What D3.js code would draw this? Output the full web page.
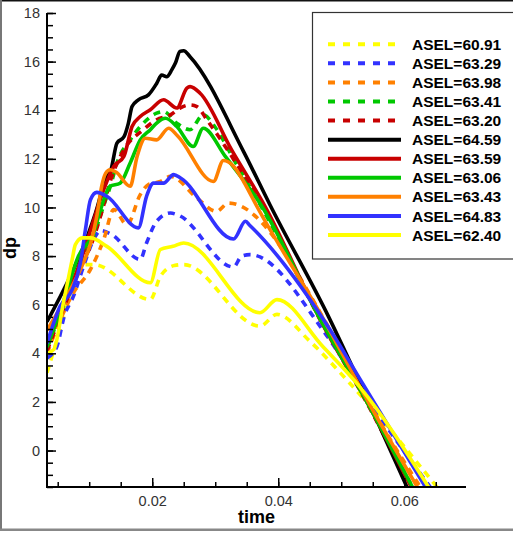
<!DOCTYPE html>
<html>
<head>
<meta charset="utf-8">
<script src="https://cdn.jsdelivr.net/npm/d3@7"></script>
<style>
  html, body { margin: 0; padding: 0; background: #fff; }
  svg { display: block; }
</style>
</head>
<body>
<svg id="chart" width="513" height="533"></svg>
<script>
// dp(time) curves, one [time, dp] array per run
const asel6091 = [[0.0033,3.2],[0.0054,5.0],[0.0072,6.62],[0.0091,7.65],[0.0108,7.65],[0.0197,6.21],[0.0213,7.17],[0.0235,7.61],[0.0250,7.65],[0.0371,5.12],[0.0398,5.6],[0.0450,4.5],[0.0509,2.9],[0.0655,-1.6]];
const asel6329 = [[0.0033,3.8],[0.0049,4.3],[0.0060,5.5],[0.0075,6.35],[0.0091,7.58],[0.0107,8.68],[0.0118,9.05],[0.0135,8.9],[0.0181,7.86],[0.0191,8.54],[0.0207,9.43],[0.0229,9.77],[0.0240,9.7],[0.0329,7.55],[0.0342,8.0],[0.0355,8.06],[0.0475,4.8],[0.0545,2.0],[0.0644,-1.6]];
const asel6398 = [[0.0033,4.0],[0.0075,6.49],[0.0102,7.45],[0.0123,8.68],[0.0139,9.91],[0.0160,9.29],[0.0181,10.53],[0.0194,10.94],[0.0213,11.07],[0.0229,11.28],[0.0271,10.39],[0.0302,9.84],[0.0321,10.18],[0.0482,4.98],[0.0545,1.9],[0.0628,-1.6]];
const asel6341 = [[0.0033,4.2],[0.0060,6.0],[0.0085,7.6],[0.0105,8.7],[0.0122,10.0],[0.0135,11.0],[0.0144,11.83],[0.0165,12.78],[0.0181,13.33],[0.0207,13.88],[0.0218,13.95],[0.0239,13.47],[0.0260,13.2],[0.0281,13.81],[0.0300,13.3],[0.0330,11.95],[0.0376,9.9],[0.0465,5.5],[0.0545,1.8],[0.0615,-1.6]];
const asel6320 = [[0.0033,4.1],[0.0060,5.9],[0.0085,7.5],[0.0105,8.6],[0.0122,10.0],[0.0135,11.2],[0.0155,12.37],[0.0186,13.2],[0.0207,13.61],[0.0229,13.81],[0.0244,14.09],[0.0260,14.22],[0.0271,14.15],[0.0287,13.6],[0.0330,11.95],[0.0378,9.95],[0.0464,5.5],[0.0545,1.75],[0.0612,-1.6]];
const asel6459 = [[0.0033,5.3],[0.0075,7.45],[0.0091,8.4],[0.0110,9.77],[0.0128,11.28],[0.0134,11.5],[0.0144,12.65],[0.0155,12.9],[0.0162,13.45],[0.0168,14.15],[0.0178,14.43],[0.0194,14.63],[0.0207,15.1],[0.0215,15.45],[0.0223,15.38],[0.0231,15.66],[0.0237,15.95],[0.0244,16.42],[0.0250,16.45],[0.0260,16.2],[0.0345,12.3],[0.0387,10.1],[0.0480,5.5],[0.0545,1.9],[0.0606,-1.6]];
const asel6359 = [[0.0033,4.3],[0.0060,6.1],[0.0085,7.7],[0.0105,9.3],[0.0123,10.73],[0.0139,11.69],[0.0155,12.1],[0.0168,13.33],[0.0181,13.74],[0.0197,14.02],[0.0218,14.43],[0.0239,14.09],[0.0255,14.91],[0.0260,14.97],[0.0276,14.7],[0.0326,12.37],[0.0379,10.05],[0.0464,5.53],[0.0545,1.8],[0.0613,-1.6]];
const asel6306 = [[0.0033,4.25],[0.0060,6.2],[0.0083,8.0],[0.0107,8.95],[0.0118,9.91],[0.0133,10.87],[0.0149,11.0],[0.0165,11.83],[0.0181,12.78],[0.0197,13.2],[0.0207,13.47],[0.0221,13.67],[0.0239,13.33],[0.0265,12.51],[0.0281,13.26],[0.0316,12.1],[0.0374,10.05],[0.0464,5.53],[0.0545,1.8],[0.0615,-1.6]];
const asel6343 = [[0.0033,4.95],[0.0070,6.62],[0.0092,7.8],[0.0102,8.5],[0.0112,9.63],[0.0120,10.9],[0.0126,11.4],[0.0133,11.55],[0.0143,11.45],[0.0165,10.87],[0.0176,12.1],[0.0189,12.85],[0.0207,12.78],[0.0226,13.26],[0.0240,12.95],[0.0297,11.07],[0.0313,11.93],[0.0329,11.7],[0.0345,11.07],[0.0366,10.05],[0.0469,5.53],[0.0545,1.9],[0.0623,-1.6]];
const asel6483 = [[0.0033,4.4],[0.0054,5.94],[0.0073,6.62],[0.0086,7.72],[0.0094,9.09],[0.0102,10.32],[0.0112,10.62],[0.0128,10.46],[0.0178,9.16],[0.0191,10.46],[0.0202,11.0],[0.0218,11.0],[0.0234,11.35],[0.0245,11.21],[0.0329,8.7],[0.0348,9.43],[0.0355,9.26],[0.0482,4.98],[0.0530,2.93],[0.0636,-1.6]];
const asel6240 = [[0.0033,4.0],[0.0044,4.16],[0.0059,6.08],[0.0073,7.86],[0.0078,8.47],[0.0089,8.75],[0.0102,8.75],[0.0128,8.4],[0.0197,6.9],[0.0213,8.27],[0.0233,8.4],[0.0250,8.54],[0.0371,5.67],[0.0398,6.21],[0.0470,4.3],[0.0530,2.6],[0.0641,-1.6]];

const seriesLabels = ["ASEL=60.91","ASEL=63.29","ASEL=63.98","ASEL=63.41","ASEL=63.20",
                      "ASEL=64.59","ASEL=63.59","ASEL=63.06","ASEL=63.43","ASEL=64.83","ASEL=62.40"];
const seriesData = [asel6091, asel6329, asel6398, asel6341, asel6320,
                    asel6459, asel6359, asel6306, asel6343, asel6483, asel6240];
const seriesColors = ["#ffff00","#3232ff","#ff8000","#00c800","#c80000",
                      "#000000","#c80000","#00c800","#ff8000","#3232ff","#ffff00"];
const seriesDashed = [true, true, true, true, true, false, false, false, false, false, false];

const xDomain = [0.0033, 0.0698];
const yDomain = [-1.5, 18];
const xMajorTicks = [0.02, 0.04, 0.06];
const xMinorTicks = d3.range(0.005, 0.0699, 0.005);
const yMajorTicks = d3.range(0, 18.01, 2);
const yMinorTicks = d3.range(-1.5, 18.01, 0.5);

const svg = d3.select("#chart");
const W = 513, H = 533;
const plot = { left: 47, right: 466, top: 13, bottom: 487 };

const x = d3.scaleLinear().domain(xDomain).range([plot.left, plot.right]);
const y = d3.scaleLinear().domain(yDomain).range([plot.bottom, plot.top]);

// window frame
svg.append("rect").attr("x", 0).attr("y", 0).attr("width", W).attr("height", H).attr("fill", "#fff");
svg.append("rect").attr("x", 0).attr("y", 0).attr("width", W).attr("height", 1.5).attr("fill", "#111");
svg.append("rect").attr("x", 0).attr("y", 0).attr("width", 2).attr("height", 531).attr("fill", "#777");
svg.append("rect").attr("x", 0).attr("y", 528.5).attr("width", W).attr("height", 2.5).attr("fill", "#888");

svg.append("defs").append("clipPath").attr("id", "plotClip")
  .append("rect")
  .attr("x", plot.left).attr("y", 0)
  .attr("width", plot.right - plot.left).attr("height", plot.bottom);

const line = d3.line()
  .x(d => x(d[0]))
  .y(d => y(d[1]))
  .curve(d3.curveMonotoneX);

const curves = svg.append("g").attr("clip-path", "url(#plotClip)");
seriesData.forEach((data, i) => {
  curves.append("path")
    .datum(data)
    .attr("d", line)
    .attr("fill", "none")
    .attr("stroke", seriesColors[i])
    .attr("stroke-width", 3.6)
    .attr("stroke-linejoin", "round")
    .attr("stroke-dasharray", seriesDashed[i] ? "7,6" : null);
});

// axes with inward ticks
const axisFont = "'Liberation Sans', Arial, sans-serif";
function styleAxis(g) {
  g.select(".domain").remove();
  g.selectAll(".tick line").attr("stroke", "#000").attr("stroke-width", 1.5);
  g.selectAll(".tick text").attr("fill", "#333").attr("font-family", axisFont).attr("font-size", 14.5);
}

svg.append("g").attr("transform", `translate(0,${plot.bottom})`)
  .call(d3.axisBottom(x).tickValues(xMinorTicks).tickSize(-5).tickFormat(""))
  .call(styleAxis);
svg.append("g").attr("transform", `translate(0,${plot.bottom})`)
  .call(d3.axisBottom(x).tickValues(xMajorTicks).tickSize(-9).tickPadding(8.5).tickFormat(d3.format(".2f")))
  .call(styleAxis);

svg.append("g").attr("transform", `translate(${plot.left},0)`)
  .call(d3.axisLeft(y).tickValues(yMinorTicks).tickSize(-6).tickFormat(""))
  .call(styleAxis);
svg.append("g").attr("transform", `translate(${plot.left},0)`)
  .call(d3.axisLeft(y).tickValues(yMajorTicks).tickSize(-9).tickPadding(7).tickFormat(d3.format("d")))
  .call(styleAxis);

// axis lines
svg.append("line").attr("x1", plot.left).attr("x2", plot.left).attr("y1", plot.top).attr("y2", plot.bottom + 1)
  .attr("stroke", "#000").attr("stroke-width", 2);
svg.append("line").attr("x1", plot.left - 1).attr("x2", plot.right).attr("y1", plot.bottom).attr("y2", plot.bottom)
  .attr("stroke", "#000").attr("stroke-width", 2);

// axis titles
svg.append("text").text("time")
  .attr("x", (plot.left + plot.right) / 2).attr("y", 523)
  .attr("text-anchor", "middle")
  .attr("font-family", axisFont).attr("font-weight", "bold").attr("font-size", 18).attr("fill", "#000");
svg.append("text").text("dp")
  .attr("transform", `translate(16,248) rotate(-90)`)
  .attr("text-anchor", "middle")
  .attr("font-family", axisFont).attr("font-weight", "bold").attr("font-size", 18).attr("fill", "#000");

// legend
const legend = svg.append("g");
legend.append("rect")
  .attr("x", 312.5).attr("y", 12.5).attr("width", 220).attr("height", 246.5)
  .attr("fill", "#fff").attr("stroke", "#333").attr("stroke-width", 1.2);
const rowY = i => 44.3 + i * 19.07;
seriesLabels.forEach((label, i) => {
  legend.append("line")
    .attr("x1", 328).attr("x2", 401)
    .attr("y1", rowY(i)).attr("y2", rowY(i))
    .attr("stroke", seriesColors[i]).attr("stroke-width", 4)
    .attr("stroke-dasharray", seriesDashed[i] ? "7,8" : null);
  legend.append("text")
    .text(label)
    .attr("x", 412).attr("y", rowY(i)).attr("dy", "0.36em")
    .attr("font-family", axisFont).attr("font-weight", "bold").attr("font-size", 15.5).attr("fill", "#000");
});
</script>
</body>
</html>
